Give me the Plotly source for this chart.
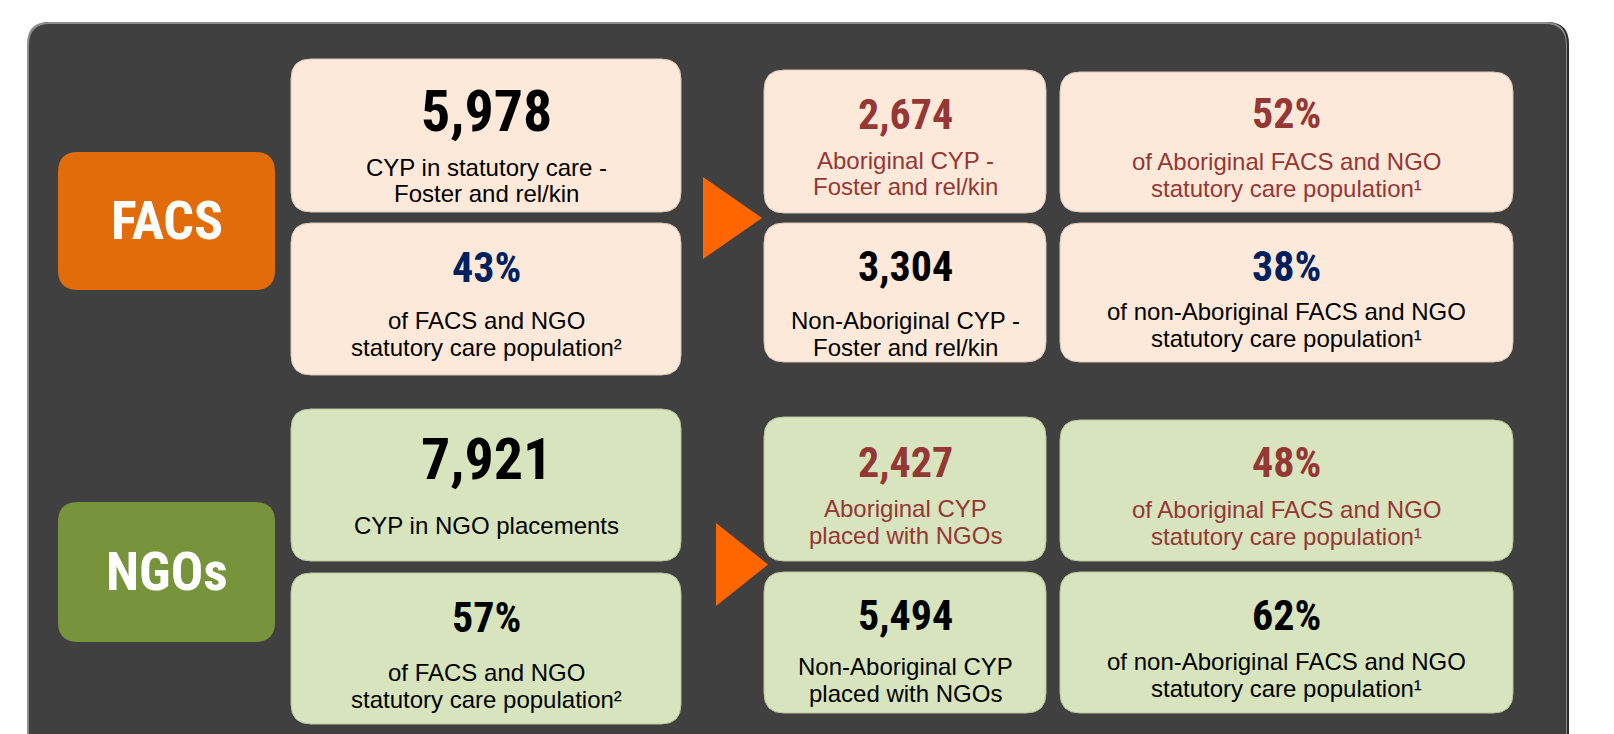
import plotly.graph_objects as go

# ---------------- data ----------------
section_labels = ["FACS", "NGOs"]

total_values = ["5,978", "7,921"]
total_desc = [["CYP in statutory care -", "Foster and rel/kin"], ["CYP in NGO placements"]]

share_values = ["43%", "57%"]
share_desc = [["of FACS and NGO", "statutory care population²"],
              ["of FACS and NGO", "statutory care population²"]]

abor_counts = ["2,674", "2,427"]
abor_count_desc = [["Aboriginal CYP -", "Foster and rel/kin"], ["Aboriginal CYP", "placed with NGOs"]]

abor_shares = ["52%", "48%"]
abor_share_desc = [["of Aboriginal FACS and NGO", "statutory care population¹"],
                   ["of Aboriginal FACS and NGO", "statutory care population¹"]]

non_counts = ["3,304", "5,494"]
non_count_desc = [["Non-Aboriginal CYP -", "Foster and rel/kin"], ["Non-Aboriginal CYP", "placed with NGOs"]]

non_shares = ["38%", "62%"]
non_share_desc = [["of non-Aboriginal FACS and NGO", "statutory care population¹"],
                  ["of non-Aboriginal FACS and NGO", "statutory care population¹"]]

# ---------------- style ----------------
W, H = 1614, 734
PAGE_MARGIN = 8  # default body margin of the written html page
NARROW = ("Roboto Condensed, Noto Sans Condensed, Open Sans Condensed, "
          "Liberation Sans Narrow, Arial Narrow, Liberation Sans, Arial, sans-serif")
REG = "Liberation Sans, Arial, sans-serif"
PANEL = "#404040"
ORANGE = "#E36C0A"
GREEN = "#77933C"
PEACH = "#FDE9D9"
LGREEN = "#D7E4BD"
ARROW = "#FF6600"
RED = "#953735"
NAVY = "#002060"
BLACK = "#000000"

fill_by_section = [PEACH, LGREEN]
edge_by_section = ["#D8C6B8", "#B7C49B"]
label_fill = [ORANGE, GREEN]

BIG, MID, LABEL, DESC = 58, 42, 54, 24

# geometry per section (page pixel coords, y downward)
label_boxes = [(58, 275, 152, 290), (58, 275, 502, 642)]
arrows = [(703, 762, 177, 259), (716, 768, 523, 606)]

# each cell: (x0, x1, y0, y1, num_y, [line ys])
cells_geo = [
    {
        "total": (291, 681, 59, 212, 111, [167, 193]),
        "share": (291, 681, 223, 375, 267, [320, 347]),
        "abor_c": (764, 1046, 70, 213, 114, [160, 186]),
        "abor_s": (1060, 1513, 72, 212, 113, [161, 188]),
        "non_c": (764, 1046, 223, 362, 266, [320, 347]),
        "non_s": (1060, 1513, 223, 362, 266, [311, 338]),
    },
    {
        "total": (291, 681, 409, 561, 459, [525]),
        "share": (291, 681, 573, 724, 617, [672, 699]),
        "abor_c": (764, 1046, 417, 561, 462, [508, 535]),
        "abor_s": (1060, 1513, 420, 561, 462, [509, 536]),
        "non_c": (764, 1046, 572, 713, 615, [666, 693]),
        "non_s": (1060, 1513, 572, 713, 615, [661, 688]),
    },
]


def rrect(x0, x1, y0, y1, r):
    return (f"M {x0+r},{y0} L {x1-r},{y0} Q {x1},{y0} {x1},{y0+r} "
            f"L {x1},{y1-r} Q {x1},{y1} {x1-r},{y1} L {x0+r},{y1} "
            f"Q {x0},{y1} {x0},{y1-r} L {x0},{y0+r} Q {x0},{y0} {x0+r},{y0} Z")


shapes = []
annotations = []


def add_shape(path, fill, line_color=None, line_width=0):
    shapes.append(dict(type="path", path=path, xref="x", yref="y",
                       fillcolor=fill, layer="below",
                       line=dict(color=line_color or fill, width=line_width)))


def add_text(x, y, text, size, color, family, bold=False):
    annotations.append(dict(x=x, y=y, xref="x", yref="y", text=text,
                            showarrow=False, xanchor="center", yanchor="middle",
                            font=dict(family=family, size=size, color=color,
                                      weight="bold" if bold else "normal")))


# background panel
add_shape(rrect(28, 1569, 22, 820, 22), "#2a2a2a")
add_shape(rrect(27, 1567, 22, 820, 22), "#8f8f8f")
add_shape(rrect(29, 1566, 24, 820, 21), PANEL)

for s in range(2):
    # section label
    x0, x1, y0, y1 = label_boxes[s]
    add_shape(rrect(x0, x1, y0, y1, 20), label_fill[s])
    add_text((x0 + x1) / 2, (y0 + y1) / 2 - 1, section_labels[s], LABEL, "white", NARROW, True)

    # arrow
    ax0, ax1, ay0, ay1 = arrows[s]
    shapes.append(dict(type="path", xref="x", yref="y", layer="below",
                       path=f"M {ax0},{ay0} L {ax1},{(ay0+ay1)/2} L {ax0},{ay1} Z",
                       fillcolor=ARROW, line=dict(width=0, color=ARROW)))

    g = cells_geo[s]
    cell_content = [
        ("total", total_values[s], total_desc[s], BIG, BLACK, BLACK),
        ("share", share_values[s], share_desc[s], MID, NAVY if s == 0 else BLACK, BLACK),
        ("abor_c", abor_counts[s], abor_count_desc[s], MID, RED, RED),
        ("abor_s", abor_shares[s], abor_share_desc[s], MID, RED, RED),
        ("non_c", non_counts[s], non_count_desc[s], MID, BLACK, BLACK),
        ("non_s", non_shares[s], non_share_desc[s], MID, NAVY if s == 0 else BLACK, BLACK),
    ]
    for key, num, desc, nsize, ncol, dcol in cell_content:
        x0, x1, y0, y1, ny, lys = g[key]
        add_shape(rrect(x0, x1, y0, y1, 20), fill_by_section[s], edge_by_section[s], 1)
        cx = (x0 + x1) / 2
        add_text(cx, ny, num, nsize, ncol, NARROW, True)
        for line, ly in zip(desc, lys):
            add_text(cx, ly, line, DESC, dcol, REG)

fig = go.Figure()
fig.update_layout(
    width=W, height=H,
    margin=dict(l=0, r=0, t=0, b=0),
    paper_bgcolor="white", plot_bgcolor="white",
    xaxis=dict(range=[PAGE_MARGIN, W + PAGE_MARGIN], visible=False, fixedrange=True),
    yaxis=dict(range=[H + PAGE_MARGIN, PAGE_MARGIN], visible=False, fixedrange=True),
    shapes=shapes, annotations=annotations, showlegend=False,
)
fig.write_html("out.html")
